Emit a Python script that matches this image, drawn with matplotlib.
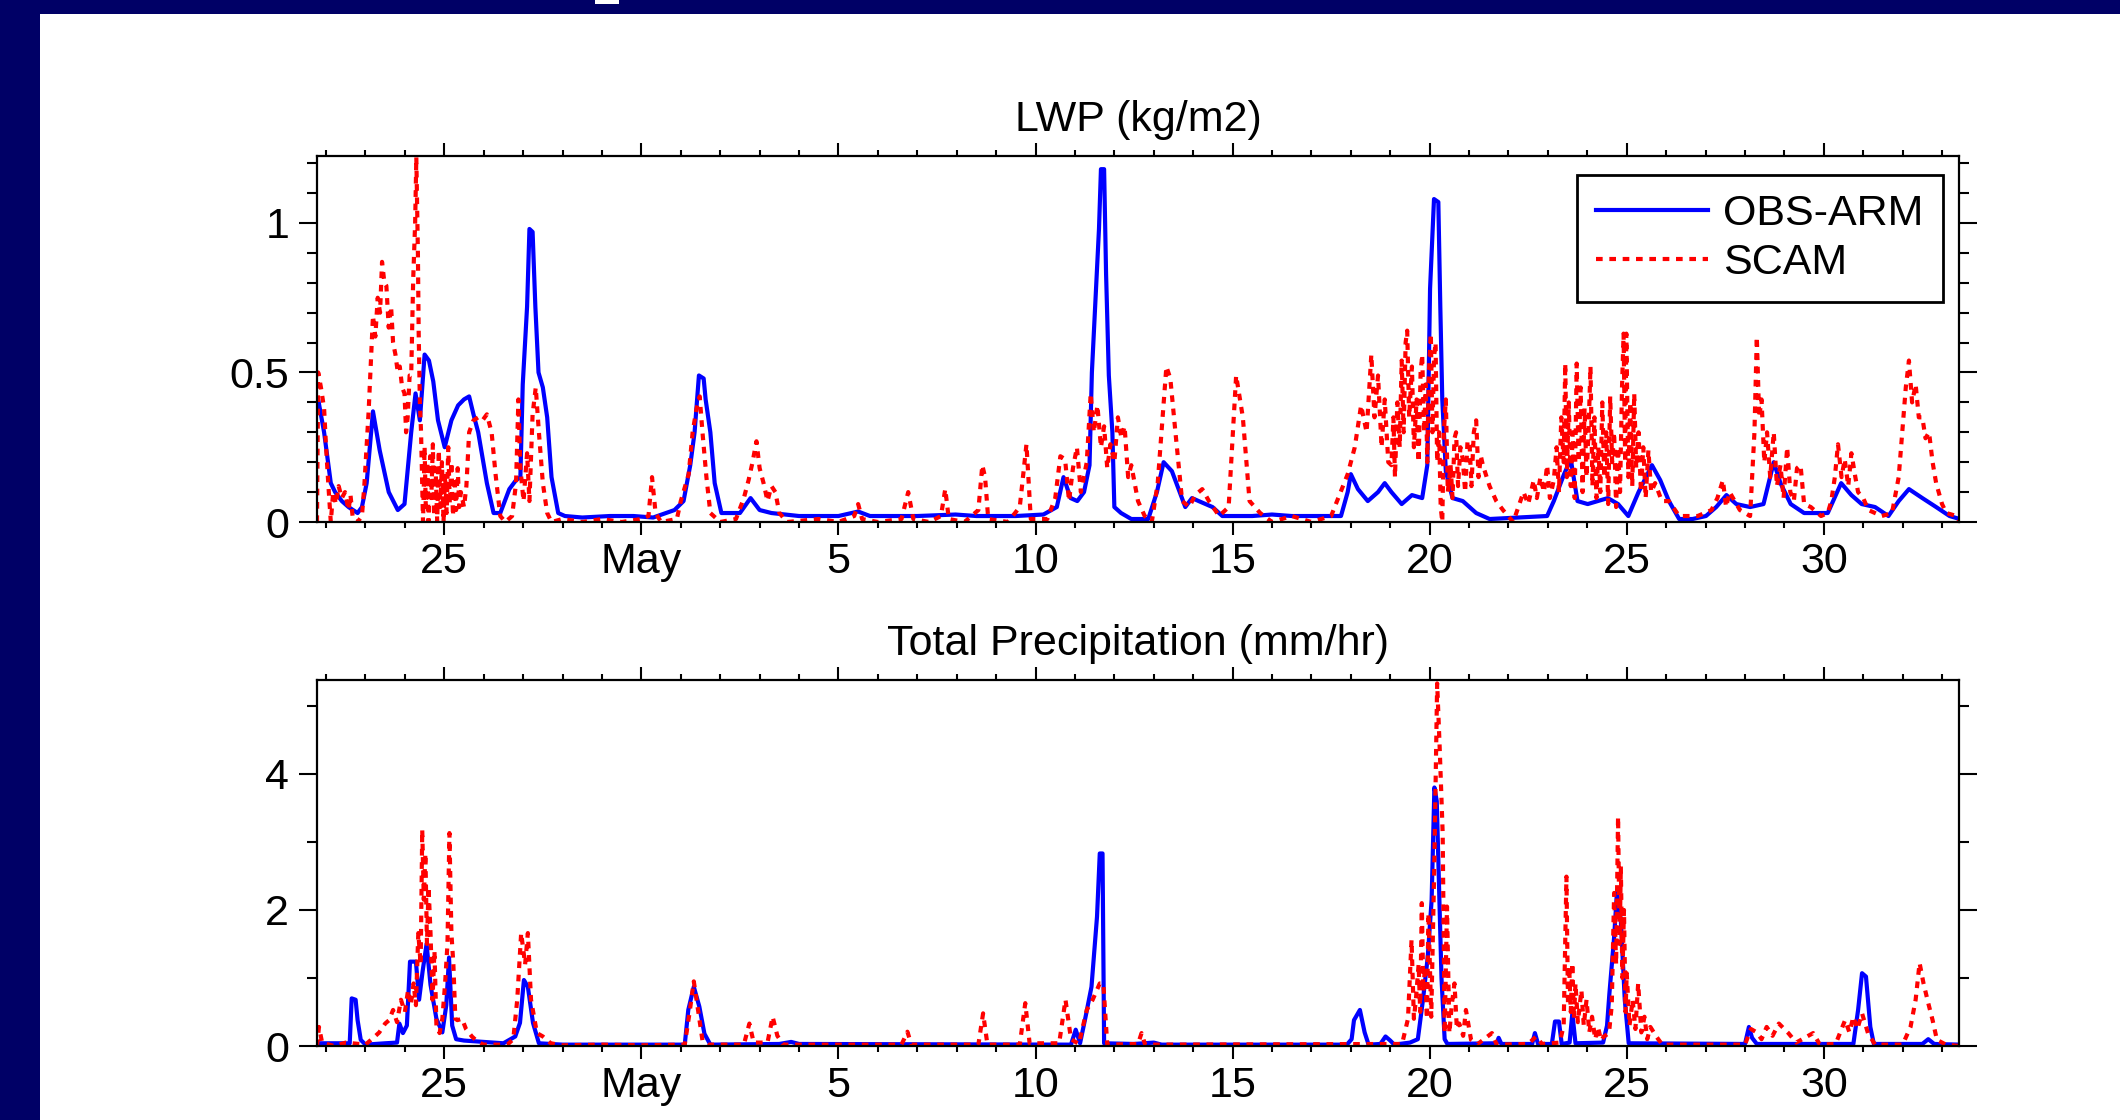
import matplotlib
matplotlib.use("Agg")
import matplotlib.pyplot as plt
from matplotlib.patches import Rectangle
from matplotlib.ticker import FixedLocator, FixedFormatter, MultipleLocator

plt.rcParams['font.family'] = ['Liberation Sans', 'DejaVu Sans']

# x axis is day counted from 1 April (30 = end of April, 35 = 5 May ...)
tick_days = [25, 30, 35, 40, 45, 50, 55, 60]
tick_labels = ['25', 'May', '5', '10', '15', '20', '25', '30']

# LWP (kg/m2), OBS-ARM
obs_lwp = [
    (21.77, 0.41), (21.80, 0.41), (21.95, 0.30), (22.12, 0.13), (22.23, 0.10), (22.40, 0.07),
    (22.57, 0.05), (22.80, 0.03), (22.91, 0.05), (23.03, 0.13), (23.19, 0.37), (23.36, 0.24),
    (23.59, 0.10), (23.82, 0.04), (23.99, 0.06), (24.16, 0.30), (24.27, 0.43), (24.38, 0.34),
    (24.50, 0.56), (24.61, 0.54), (24.72, 0.47), (24.84, 0.34), (25.01, 0.25), (25.18, 0.34),
    (25.35, 0.39), (25.50, 0.41), (25.63, 0.42), (25.74, 0.36), (25.86, 0.30), (26.08, 0.13),
    (26.25, 0.03), (26.42, 0.03), (26.65, 0.11), (26.82, 0.14), (26.93, 0.15), (26.99, 0.46),
    (27.10, 0.72), (27.16, 0.98), (27.24, 0.97), (27.31, 0.72), (27.39, 0.50), (27.50, 0.45),
    (27.61, 0.35), (27.72, 0.15), (27.89, 0.03), (28.06, 0.02), (28.5, 0.015), (29.2, 0.02),
    (29.8, 0.02), (30.3, 0.015), (30.84, 0.04), (31.07, 0.07), (31.24, 0.19), (31.35, 0.30),
    (31.46, 0.49), (31.58, 0.48), (31.63, 0.41), (31.75, 0.30), (31.86, 0.13), (32.03, 0.03),
    (32.5, 0.03), (32.77, 0.08), (33.0, 0.04), (33.3, 0.03), (34.0, 0.02), (35.0, 0.02),
    (35.5, 0.035), (35.8, 0.02), (36.5, 0.02), (37.0, 0.02), (37.97, 0.025), (38.5, 0.02),
    (39.5, 0.02), (40.2, 0.025), (40.54, 0.05), (40.71, 0.15), (40.89, 0.08), (41.06, 0.07),
    (41.23, 0.10), (41.37, 0.19), (41.43, 0.50), (41.54, 0.79), (41.61, 0.98), (41.66, 1.18),
    (41.74, 1.18), (41.79, 0.83), (41.86, 0.49), (41.95, 0.30), (42.00, 0.05), (42.17, 0.03),
    (42.43, 0.01), (42.86, 0.01), (43.08, 0.10), (43.25, 0.20), (43.46, 0.17), (43.63, 0.11),
    (43.80, 0.05), (43.97, 0.08), (44.14, 0.07), (44.49, 0.05), (44.74, 0.02), (45.5, 0.02),
    (46.0, 0.025), (46.5, 0.02), (47.0, 0.02), (47.75, 0.02), (47.92, 0.10), (48.00, 0.16),
    (48.18, 0.11), (48.43, 0.07), (48.69, 0.10), (48.86, 0.13), (49.03, 0.10), (49.29, 0.06),
    (49.55, 0.09), (49.81, 0.08), (49.94, 0.19), (50.01, 0.78), (50.11, 1.08), (50.22, 1.07),
    (50.27, 0.72), (50.32, 0.41), (50.41, 0.17), (50.58, 0.08), (50.84, 0.07), (51.18, 0.03),
    (51.52, 0.01), (52.98, 0.02), (53.15, 0.07), (53.41, 0.16), (53.58, 0.21), (53.75, 0.07),
    (54.01, 0.06), (54.27, 0.07), (54.52, 0.08), (54.78, 0.06), (55.04, 0.02), (55.30, 0.10),
    (55.64, 0.19), (55.85, 0.14), (56.07, 0.07), (56.33, 0.01), (56.67, 0.01), (57.01, 0.02),
    (57.27, 0.05), (57.53, 0.09), (57.78, 0.06), (58.13, 0.05), (58.47, 0.06), (58.73, 0.20),
    (58.90, 0.13), (59.16, 0.06), (59.50, 0.03), (59.84, 0.03), (60.10, 0.03), (60.44, 0.13),
    (60.70, 0.09), (60.96, 0.06), (61.30, 0.05), (61.64, 0.02), (61.90, 0.07), (62.16, 0.11),
    (62.50, 0.08), (62.85, 0.05), (63.19, 0.02), (63.45, 0.01),
]

# LWP (kg/m2), SCAM
scam_lwp = [
    (21.77, 0.0), (21.80, 0.50), (21.87, 0.45), (21.95, 0.38), (22.00, 0.25), (22.06, 0.12),
    (22.12, 0.0), (22.18, 0.10), (22.25, 0.06), (22.32, 0.12), (22.40, 0.08), (22.48, 0.10),
    (22.57, 0.04), (22.62, 0.09), (22.68, 0.01), (22.80, 0.0), (22.91, 0.02), (22.97, 0.12),
    (23.08, 0.37), (23.19, 0.69), (23.25, 0.62), (23.31, 0.75), (23.37, 0.70), (23.42, 0.87),
    (23.48, 0.80), (23.53, 0.79), (23.59, 0.65), (23.65, 0.72), (23.70, 0.60), (23.76, 0.56),
    (23.82, 0.50), (23.87, 0.52), (23.93, 0.45), (23.99, 0.43), (24.03, 0.30), (24.07, 0.35),
    (24.12, 0.49), (24.16, 0.49), (24.21, 0.81), (24.26, 1.00), (24.29, 1.22), (24.33, 0.90),
    (24.35, 0.63), (24.38, 0.40), (24.41, 0.30), (24.44, 0.12), (24.46, 0.0), (24.50, 0.25),
    (24.53, 0.05), (24.57, 0.20), (24.60, 0.0), (24.64, 0.22), (24.67, 0.08), (24.71, 0.26),
    (24.74, 0.02), (24.78, 0.18), (24.82, 0.0), (24.86, 0.24), (24.90, 0.05), (24.94, 0.20),
    (24.98, 0.0), (25.02, 0.16), (25.06, 0.03), (25.10, 0.25), (25.14, 0.06), (25.18, 0.20),
    (25.22, 0.02), (25.26, 0.15), (25.30, 0.04), (25.34, 0.18), (25.38, 0.05), (25.42, 0.10),
    (25.50, 0.05), (25.56, 0.12), (25.63, 0.30), (25.74, 0.34), (25.86, 0.35), (25.97, 0.34),
    (26.08, 0.36), (26.20, 0.30), (26.30, 0.16), (26.42, 0.02), (26.55, 0.0), (26.72, 0.02),
    (26.82, 0.13), (26.88, 0.41), (26.93, 0.18), (27.01, 0.07), (27.10, 0.23), (27.16, 0.07),
    (27.24, 0.36), (27.32, 0.45), (27.40, 0.30), (27.50, 0.13), (27.61, 0.03), (27.72, 0.0),
    (28.0, 0.01), (28.5, 0.0), (29.0, 0.01), (29.5, 0.0), (30.0, 0.01), (30.18, 0.02),
    (30.27, 0.15), (30.36, 0.03), (30.5, 0.0), (30.9, 0.01), (31.0, 0.07), (31.2, 0.16),
    (31.3, 0.30), (31.4, 0.38), (31.48, 0.42), (31.55, 0.30), (31.65, 0.15), (31.75, 0.03),
    (32.0, 0.0), (32.4, 0.01), (32.6, 0.08), (32.72, 0.14), (32.82, 0.20), (32.92, 0.27),
    (33.0, 0.18), (33.1, 0.13), (33.2, 0.07), (33.3, 0.12), (33.4, 0.10), (33.5, 0.03),
    (33.7, 0.0), (34.5, 0.01), (35.0, 0.0), (35.4, 0.02), (35.5, 0.06), (35.6, 0.01),
    (36.0, 0.0), (36.6, 0.01), (36.77, 0.10), (36.9, 0.01), (37.3, 0.0), (37.6, 0.02),
    (37.71, 0.11), (37.8, 0.01), (38.2, 0.0), (38.55, 0.04), (38.65, 0.19), (38.72, 0.15),
    (38.8, 0.01), (39.3, 0.0), (39.6, 0.05), (39.77, 0.26), (39.88, 0.01), (40.3, 0.01),
    (40.5, 0.08), (40.63, 0.22), (40.75, 0.21), (40.85, 0.07), (40.95, 0.18), (41.05, 0.25),
    (41.15, 0.10), (41.3, 0.20), (41.4, 0.43), (41.48, 0.30), (41.57, 0.39), (41.66, 0.25),
    (41.74, 0.32), (41.82, 0.18), (41.9, 0.26), (42.0, 0.20), (42.09, 0.35), (42.18, 0.28),
    (42.26, 0.32), (42.35, 0.15), (42.43, 0.19), (42.6, 0.07), (42.77, 0.02), (42.95, 0.0),
    (43.1, 0.13), (43.32, 0.52), (43.42, 0.48), (43.55, 0.30), (43.72, 0.07), (43.9, 0.05),
    (44.05, 0.09), (44.23, 0.11), (44.4, 0.07), (44.66, 0.02), (44.9, 0.05), (45.09, 0.49),
    (45.26, 0.35), (45.43, 0.07), (45.7, 0.03), (46.0, 0.0), (46.5, 0.02), (47.0, 0.0),
    (47.5, 0.02), (47.92, 0.16), (48.1, 0.25), (48.26, 0.39), (48.40, 0.30), (48.52, 0.56),
    (48.60, 0.35), (48.69, 0.49), (48.78, 0.25), (48.86, 0.41), (48.95, 0.20), (49.03, 0.19),
    (49.08, 0.35), (49.12, 0.15), (49.18, 0.40), (49.24, 0.25), (49.29, 0.54), (49.34, 0.30),
    (49.39, 0.60), (49.43, 0.64), (49.48, 0.35), (49.55, 0.52), (49.60, 0.25), (49.67, 0.41),
    (49.72, 0.20), (49.77, 0.50), (49.81, 0.56), (49.86, 0.30), (49.90, 0.46), (49.94, 0.20),
    (49.98, 0.50), (50.03, 0.63), (50.07, 0.30), (50.11, 0.55), (50.15, 0.60), (50.19, 0.20),
    (50.24, 0.30), (50.28, 0.05), (50.32, 0.0), (50.36, 0.30), (50.41, 0.41), (50.46, 0.10),
    (50.53, 0.19), (50.58, 0.08), (50.63, 0.28), (50.67, 0.30), (50.72, 0.12), (50.78, 0.25),
    (50.84, 0.21), (50.90, 0.10), (50.96, 0.27), (51.01, 0.27), (51.06, 0.12), (51.12, 0.30),
    (51.18, 0.34), (51.24, 0.15), (51.30, 0.22), (51.35, 0.19), (51.52, 0.12), (51.69, 0.07),
    (51.86, 0.04), (52.12, 0.0), (52.38, 0.10), (52.50, 0.06), (52.64, 0.14), (52.72, 0.08),
    (52.81, 0.15), (52.90, 0.10), (52.98, 0.19), (53.05, 0.08), (53.15, 0.14), (53.22, 0.25),
    (53.28, 0.10), (53.34, 0.35), (53.40, 0.20), (53.44, 0.53), (53.48, 0.15), (53.53, 0.40),
    (53.58, 0.12), (53.63, 0.30), (53.68, 0.08), (53.73, 0.53), (53.78, 0.20), (53.83, 0.45),
    (53.88, 0.10), (53.93, 0.38), (53.98, 0.15), (54.03, 0.30), (54.08, 0.52), (54.13, 0.12),
    (54.18, 0.35), (54.23, 0.08), (54.28, 0.25), (54.33, 0.10), (54.38, 0.40), (54.43, 0.15),
    (54.48, 0.30), (54.53, 0.06), (54.58, 0.42), (54.63, 0.20), (54.68, 0.30), (54.73, 0.05),
    (54.78, 0.25), (54.83, 0.10), (54.88, 0.45), (54.92, 0.63), (54.96, 0.20), (54.99, 0.63),
    (55.04, 0.15), (55.09, 0.40), (55.14, 0.12), (55.19, 0.43), (55.24, 0.18), (55.30, 0.30),
    (55.36, 0.10), (55.42, 0.25), (55.48, 0.08), (55.55, 0.24), (55.62, 0.10), (55.72, 0.13),
    (55.89, 0.07), (56.07, 0.07), (56.33, 0.02), (56.8, 0.02), (57.15, 0.04), (57.30, 0.08),
    (57.44, 0.14), (57.52, 0.05), (57.61, 0.10), (57.87, 0.04), (58.13, 0.02), (58.24, 0.30),
    (58.30, 0.62), (58.36, 0.35), (58.42, 0.41), (58.49, 0.20), (58.56, 0.30), (58.64, 0.15),
    (58.73, 0.30), (58.81, 0.12), (58.90, 0.19), (58.98, 0.08), (59.07, 0.25), (59.15, 0.10),
    (59.24, 0.07), (59.32, 0.18), (59.41, 0.19), (59.50, 0.06), (59.67, 0.05), (59.93, 0.02),
    (60.10, 0.03), (60.19, 0.07), (60.28, 0.15), (60.36, 0.26), (60.45, 0.15), (60.53, 0.21),
    (60.62, 0.12), (60.70, 0.23), (60.80, 0.15), (60.87, 0.10), (61.0, 0.08), (61.13, 0.04),
    (61.47, 0.02), (61.73, 0.03), (61.90, 0.15), (61.99, 0.30), (62.08, 0.45), (62.16, 0.54),
    (62.24, 0.40), (62.33, 0.46), (62.41, 0.35), (62.50, 0.35), (62.58, 0.28), (62.67, 0.30),
    (62.76, 0.20), (62.85, 0.13), (63.0, 0.06), (63.11, 0.03), (63.37, 0.02), (63.45, 0.0),
]

# Total precipitation (mm/hr), OBS-ARM
obs_pr = [
    (21.77, 0.04), (22.6, 0.04), (22.65, 0.70), (22.75, 0.68), (22.80, 0.38), (22.88, 0.09),
    (23.0, 0.02), (23.5, 0.04), (23.8, 0.05), (23.86, 0.33), (23.95, 0.19), (24.05, 0.30),
    (24.13, 1.24), (24.28, 1.24), (24.36, 0.68), (24.45, 1.10), (24.55, 1.50), (24.65, 0.90),
    (24.80, 0.40), (24.95, 0.20), (25.05, 0.60), (25.12, 1.30), (25.20, 0.30), (25.30, 0.10),
    (25.5, 0.08), (26.0, 0.06), (26.5, 0.04), (26.8, 0.14), (26.92, 0.34), (27.02, 0.97),
    (27.12, 0.87), (27.25, 0.34), (27.4, 0.04), (28.0, 0.02), (31.1, 0.02), (31.19, 0.53),
    (31.33, 0.87), (31.47, 0.58), (31.6, 0.18), (31.75, 0.02), (33.5, 0.03), (33.8, 0.06),
    (34.0, 0.03), (40.9, 0.02), (41.02, 0.24), (41.13, 0.04), (41.27, 0.43), (41.42, 0.87),
    (41.56, 1.90), (41.63, 2.83), (41.70, 2.83), (41.74, 0.04), (42.5, 0.03), (43.0, 0.05),
    (43.2, 0.02), (47.9, 0.02), (48.02, 0.10), (48.08, 0.38), (48.23, 0.53), (48.35, 0.20),
    (48.45, 0.02), (48.75, 0.03), (48.88, 0.14), (49.0, 0.08), (49.1, 0.02), (49.5, 0.05),
    (49.70, 0.10), (49.83, 0.68), (49.95, 1.30), (50.05, 2.15), (50.12, 3.80), (50.18, 3.60),
    (50.22, 2.73), (50.30, 1.00), (50.38, 0.10), (50.45, 0.03), (51.7, 0.04), (51.75, 0.12),
    (51.82, 0.03), (52.6, 0.03), (52.67, 0.19), (52.75, 0.03), (53.1, 0.03), (53.18, 0.36),
    (53.28, 0.36), (53.35, 0.03), (53.55, 0.05), (53.62, 0.48), (53.70, 0.04), (54.4, 0.05),
    (54.5, 0.30), (54.56, 0.77), (54.68, 1.60), (54.75, 2.25), (54.85, 1.85), (54.95, 0.68),
    (55.05, 0.04), (58.0, 0.03), (58.1, 0.28), (58.18, 0.12), (58.3, 0.03), (60.75, 0.03),
    (60.87, 0.53), (60.97, 1.07), (61.07, 1.02), (61.18, 0.28), (61.27, 0.03), (62.5, 0.03),
    (62.65, 0.10), (62.8, 0.03), (63.45, 0.02),
]

# Total precipitation (mm/hr), SCAM
scam_pr = [
    (21.77, 0.0), (21.82, 0.28), (21.9, 0.05), (22.2, 0.0), (22.5, 0.05), (23.0, 0.02),
    (23.2, 0.12), (23.35, 0.20), (23.5, 0.33), (23.6, 0.38), (23.7, 0.53), (23.8, 0.35),
    (23.9, 0.68), (24.0, 0.50), (24.08, 0.82), (24.15, 0.60), (24.22, 0.92), (24.28, 0.60),
    (24.34, 1.66), (24.40, 1.20), (24.44, 3.18), (24.48, 2.15), (24.52, 2.83), (24.56, 1.50),
    (24.60, 2.34), (24.65, 1.66), (24.70, 0.68), (24.75, 1.40), (24.80, 0.30), (24.88, 0.19),
    (24.95, 0.40), (25.02, 0.92), (25.08, 1.50), (25.13, 3.13), (25.18, 1.66), (25.23, 1.20),
    (25.28, 0.40), (25.33, 0.38), (25.45, 0.40), (25.55, 0.25), (25.7, 0.14), (25.85, 0.06),
    (26.0, 0.02), (26.6, 0.02), (26.75, 0.10), (26.85, 0.68), (26.95, 1.66), (27.05, 1.20),
    (27.12, 1.66), (27.2, 0.68), (27.35, 0.19), (27.5, 0.14), (27.7, 0.04), (28.0, 0.01),
    (29.0, 0.02), (30.0, 0.01), (31.1, 0.02), (31.22, 0.48), (31.33, 0.95), (31.42, 0.60),
    (31.55, 0.08), (31.7, 0.02), (32.6, 0.02), (32.74, 0.33), (32.85, 0.05), (33.2, 0.05),
    (33.33, 0.43), (33.45, 0.15), (33.6, 0.02), (36.6, 0.02), (36.75, 0.21), (36.85, 0.02),
    (38.55, 0.02), (38.67, 0.48), (38.78, 0.02), (39.6, 0.02), (39.74, 0.63), (39.85, 0.04),
    (40.6, 0.04), (40.76, 0.68), (40.9, 0.10), (41.1, 0.03), (41.3, 0.53), (41.45, 0.68),
    (41.63, 0.92), (41.72, 0.92), (41.82, 0.02), (42.6, 0.03), (42.69, 0.19), (42.78, 0.02),
    (49.3, 0.03), (49.45, 0.40), (49.54, 1.56), (49.60, 0.40), (49.65, 0.68), (49.72, 1.20),
    (49.76, 0.50), (49.80, 2.10), (49.84, 0.80), (49.88, 1.17), (49.93, 0.40), (49.97, 1.95),
    (50.04, 0.43), (50.12, 2.73), (50.19, 5.33), (50.25, 4.45), (50.33, 3.13), (50.38, 0.19),
    (50.44, 2.05), (50.50, 0.19), (50.56, 0.60), (50.63, 0.92), (50.69, 0.25), (50.75, 0.33),
    (50.85, 0.15), (50.92, 0.53), (51.05, 0.09), (51.2, 0.02), (51.58, 0.19), (51.7, 0.02),
    (52.5, 0.03), (52.7, 0.14), (52.85, 0.03), (53.3, 0.05), (53.40, 0.30), (53.47, 2.49),
    (53.51, 0.60), (53.54, 1.17), (53.58, 0.50), (53.62, 1.22), (53.66, 0.40), (53.70, 0.92),
    (53.76, 0.35), (53.85, 0.82), (53.91, 0.30), (53.98, 0.68), (54.05, 0.20), (54.12, 0.43),
    (54.20, 0.10), (54.27, 0.28), (54.35, 0.08), (54.42, 0.14), (54.55, 0.19), (54.62, 0.60),
    (54.68, 2.25), (54.73, 1.20), (54.78, 3.37), (54.82, 1.50), (54.85, 2.64), (54.89, 1.00),
    (54.93, 2.00), (54.97, 0.50), (55.0, 1.07), (55.07, 0.30), (55.15, 0.68), (55.22, 0.25),
    (55.29, 0.92), (55.37, 0.20), (55.45, 0.43), (55.52, 0.10), (55.6, 0.28), (55.75, 0.14),
    (55.9, 0.02), (58.0, 0.02), (58.15, 0.25), (58.3, 0.20), (58.42, 0.10), (58.55, 0.28),
    (58.70, 0.15), (58.86, 0.33), (59.1, 0.19), (59.3, 0.05), (59.73, 0.19), (59.9, 0.02),
    (60.3, 0.03), (60.54, 0.38), (60.65, 0.20), (60.75, 0.43), (60.85, 0.25), (60.97, 0.48),
    (61.12, 0.19), (61.3, 0.02), (62.0, 0.02), (62.2, 0.28), (62.33, 0.68), (62.43, 1.22),
    (62.53, 0.92), (62.65, 0.63), (62.76, 0.38), (62.87, 0.09), (63.1, 0.02), (63.45, 0.0),
]

FS = 31
BLUE = '#0000ff'
RED = '#ff0000'
NAVY = '#000066'
DOT = (0, (1.6, 1.6))


def style_axis(ax, ymax, yminor, yticks, ylabels):
    ax.set_xlim(21.77, 63.43)
    ax.set_ylim(0, ymax)
    ax.xaxis.set_major_locator(FixedLocator(tick_days))
    ax.xaxis.set_major_formatter(FixedFormatter(tick_labels))
    ax.xaxis.set_minor_locator(MultipleLocator(1))
    ax.yaxis.set_major_locator(FixedLocator(yticks))
    ax.yaxis.set_major_formatter(FixedFormatter(ylabels))
    ax.yaxis.set_minor_locator(MultipleLocator(yminor))
    ax.tick_params(axis='both', which='both', direction='out', width=1.5, colors='black',
                   top=True, right=True, labelsize=FS)
    ax.tick_params(axis='x', which='major', length=9.5, pad=5)
    ax.tick_params(axis='x', which='minor', length=4.5)
    ax.tick_params(axis='y', which='major', length=13, pad=7)
    ax.tick_params(axis='y', which='minor', length=7)
    for s in ax.spines.values():
        s.set_linewidth(1.6)


fig = plt.figure(figsize=(21.2, 11.2), dpi=100)
fig.patch.set_facecolor('white')

# slide border
fig.patches.append(Rectangle((0, 0), 40 / 2120, 1, transform=fig.transFigure,
                             facecolor=NAVY, edgecolor='none', zorder=0))
fig.patches.append(Rectangle((0, 1 - 14 / 1120), 1, 14 / 1120, transform=fig.transFigure,
                             facecolor=NAVY, edgecolor='none', zorder=0))
fig.patches.append(Rectangle((595 / 2120, 1 - 3.5 / 1120), 24 / 2120, 3.5 / 1120,
                             transform=fig.transFigure, facecolor='white',
                             edgecolor='none', zorder=1))

ax1 = fig.add_axes([317 / 2120, 1 - 522 / 1120, 1642 / 2120, 366 / 1120])
ax2 = fig.add_axes([317 / 2120, 1 - 1046 / 1120, 1642 / 2120, 366 / 1120])

t, v = zip(*obs_lwp)
ax1.plot(t, v, color=BLUE, lw=3, label='OBS-ARM')
t, v = zip(*scam_lwp)
ax1.plot(t, v, color=RED, lw=3, linestyle=DOT, label='SCAM')
style_axis(ax1, 1.224, 0.1, [0, 0.5, 1], ['0', '0.5', '1'])
ax1.set_title('LWP (kg/m2)', fontsize=FS, pad=18)

leg = ax1.legend(loc='upper right', bbox_to_anchor=(1943 / 2120, 1 - 175 / 1120),
                 bbox_transform=fig.transFigure, fontsize=FS, frameon=True, fancybox=False,
                 framealpha=1, edgecolor='black', borderpad=0.45, labelspacing=0.2,
                 handlelength=2.6, handletextpad=0.35, borderaxespad=0)
leg.get_frame().set_linewidth(2)

t, v = zip(*obs_pr)
ax2.plot(t, v, color=BLUE, lw=3)
t, v = zip(*scam_pr)
ax2.plot(t, v, color=RED, lw=3, linestyle=DOT)
style_axis(ax2, 5.38, 1, [0, 2, 4], ['0', '2', '4'])
ax2.set_title('Total Precipitation (mm/hr)', fontsize=FS, pad=18)

fig.savefig('out.png', dpi=100, facecolor='white')
